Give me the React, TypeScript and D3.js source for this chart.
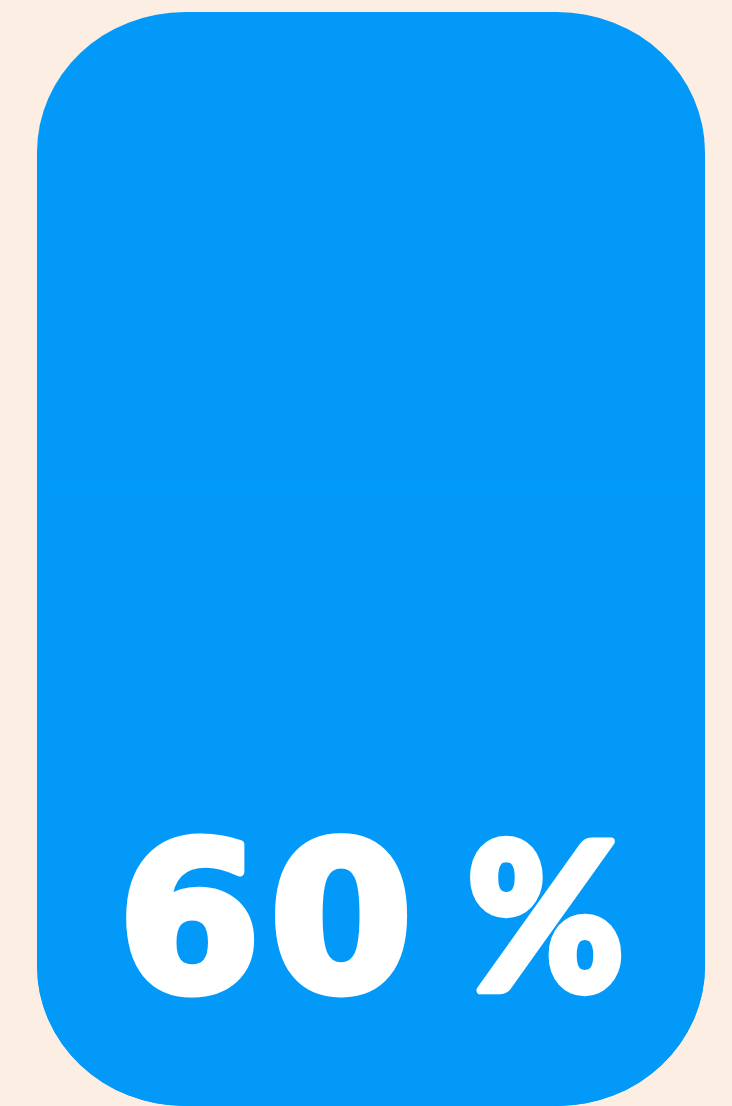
import React from "react";
import * as d3 from "d3";

const values = [60];
const valueLabels = ["60"];
const unitLabels = ["%"];
const domain = [0, 100];

const W = 732;
const H = 1106;

export default function App() {
  const x0 = 37, x1 = 705, top = 12, bottom = 1106;
  const y = d3.scaleLinear().domain(domain).range([bottom, 74]);
  const v = values[0];
  const fillTop = y(v);
  const rx = 148, ry = 140;
  return (
    <svg width={W} height={H} style={{ position: "absolute", left: 0, top: 0, display: "block" }}>
      <defs>
        <clipPath id="tank">
          <rect x={x0} y={top} width={x1 - x0} height={bottom - top} rx={rx} ry={ry} />
        </clipPath>
      </defs>
      <rect x={0} y={0} width={W} height={H} fill="#fceee3" />
      <rect x={x0} y={top} width={x1 - x0} height={bottom - top} rx={rx} ry={ry} fill="#0299f9" />
      <g clipPath="url(#tank)">
        <rect x={x0 + 0.5} y={fillTop} width={x1 - x0 - 0.5} height={bottom - fillTop} fill="#0299f9" />
      </g>
      <text
        x={118}
        y={990}
        fill="#ffffff"
        stroke="#ffffff"
        strokeWidth={9}
        strokeLinejoin="round"
        fontFamily="'DejaVu Sans', sans-serif"
        fontWeight={700}
        fontSize={205}
        letterSpacing={9}
      >
        {valueLabels[0]}
      </text>
      <text
        transform="translate(467,990) scale(0.97,1.04)"
        fill="#ffffff"
        stroke="#ffffff"
        strokeWidth={8}
        strokeLinejoin="round"
        fontFamily="Lato, sans-serif"
        fontWeight={900}
        fontSize={196}
      >
        {unitLabels[0]}
      </text>
    </svg>
  );
}
